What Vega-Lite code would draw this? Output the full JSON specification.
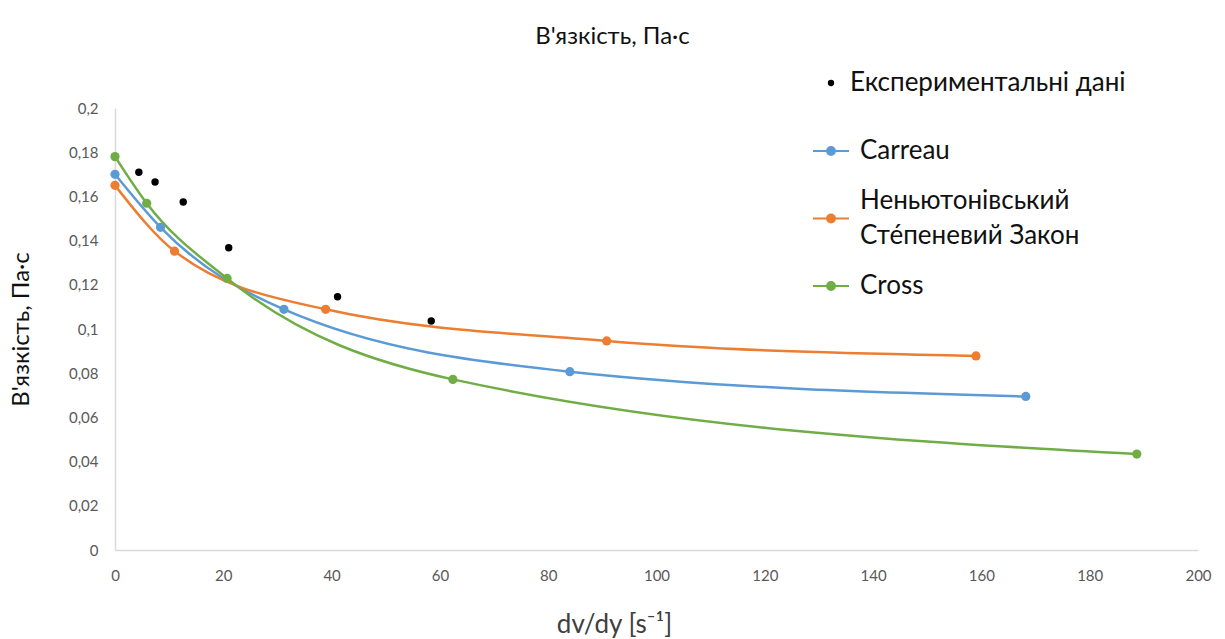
{
  "$schema": "https://vega.github.io/schema/vega-lite/v6.json",
  "width": 1083,
  "height": 442,
  "autosize": {"type": "none"},
  "padding": {"left": 115, "top": 108, "right": 27, "bottom": 89},
  "background": "white",
  "config": {
    "font": "Lato",
    "view": {"stroke": null}
  },
  "title": {
    "text": "В'язкість, Па·с",
    "fontSize": 24,
    "fontWeight": "normal",
    "color": "#111111",
    "font": "Lato",
    "dx": -44,
    "offset": 21
  },
  "data": {
    "values": [
      {"series": "Експериментальні дані", "x": 4.4, "y": 0.1709},
      {"series": "Експериментальні дані", "x": 7.4, "y": 0.1665},
      {"series": "Експериментальні дані", "x": 12.6, "y": 0.1575},
      {"series": "Експериментальні дані", "x": 21.0, "y": 0.1368},
      {"series": "Експериментальні дані", "x": 41.1, "y": 0.1146},
      {"series": "Експериментальні дані", "x": 58.4, "y": 0.1036},
      {"series": "Carreau", "x": 0, "y": 0.170},
      {"series": "Carreau", "x": 8.4, "y": 0.146},
      {"series": "Carreau", "x": 31.2, "y": 0.1089},
      {"series": "Carreau", "x": 84.0, "y": 0.0807},
      {"series": "Carreau", "x": 168.2, "y": 0.0695},
      {"series": "Неньютонівський Сте́пеневий Закон", "x": 0, "y": 0.165},
      {"series": "Неньютонівський Сте́пеневий Закон", "x": 11.0, "y": 0.1352},
      {"series": "Неньютонівський Сте́пеневий Закон", "x": 38.9, "y": 0.1089},
      {"series": "Неньютонівський Сте́пеневий Закон", "x": 90.8, "y": 0.0946},
      {"series": "Неньютонівський Сте́пеневий Закон", "x": 159.0, "y": 0.0878},
      {"series": "Cross", "x": 0, "y": 0.178},
      {"series": "Cross", "x": 5.85, "y": 0.1569},
      {"series": "Cross", "x": 20.7, "y": 0.1229},
      {"series": "Cross", "x": 62.4, "y": 0.0772},
      {"series": "Cross", "x": 188.7, "y": 0.0434}
    ]
  },
  "encoding": {
    "x": {
      "field": "x",
      "type": "quantitative",
      "scale": {"domain": [0, 200], "nice": false, "zero": false},
      "axis": {
        "title": "dv/dy [s⁻¹]",
        "values": [0, 20, 40, 60, 80, 100, 120, 140, 160, 180, 200],
        "grid": false,
        "ticks": false,
        "labelFlush": false,
        "domainColor": "#d9d9d9",
        "domainWidth": 1.5,
        "labelColor": "#595959",
        "labelFontSize": 15,
        "labelPadding": 18,
        "labelFont": "Lato",
        "titleFont": "Lato",
        "titleFontSize": 26,
        "titleFontWeight": "normal",
        "titleColor": "#404040",
        "titlePadding": 28,
        "titleX": 499
      }
    },
    "y": {
      "field": "y",
      "type": "quantitative",
      "scale": {"domain": [0, 0.2], "nice": false},
      "axis": {
        "title": "В'язкість, Па·с",
        "values": [0, 0.02, 0.04, 0.06, 0.08, 0.1, 0.12, 0.14, 0.16, 0.18, 0.2],
        "labelExpr": "replace(format(datum.value, '~g'), '.', ',')",
        "grid": false,
        "ticks": false,
        "domainColor": "#d9d9d9",
        "domainWidth": 1.5,
        "labelColor": "#595959",
        "labelFontSize": 15,
        "labelPadding": 17,
        "labelFont": "Lato",
        "titleFont": "Lato",
        "titleFontSize": 24,
        "titleFontWeight": "normal",
        "titleColor": "#111111",
        "titlePadding": 35
      }
    }
  },
  "layer": [
    {
      "transform": [{"filter": "datum.series !== 'Експериментальні дані'"}],
      "mark": {"type": "line", "interpolate": "monotone", "strokeWidth": 2.5},
      "encoding": {
        "color": {
          "field": "series",
          "type": "nominal",
          "scale": {
            "domain": ["Carreau", "Неньютонівський Сте́пеневий Закон", "Cross"],
            "range": ["#5b9bd5", "#ed7d31", "#70ad47"]
          },
          "legend": {
            "title": null,
            "orient": "none",
            "legendX": 697,
            "legendY": 24,
            "symbolType": "M-1,0L1,0M-0.22,0A0.22,0.22,0,1,0,0.22,0A0.22,0.22,0,1,0,-0.22,0Z",
            "symbolSize": 1296,
            "symbolStrokeWidth": 2,
            "labelFontSize": 26,
            "labelFont": "Lato",
            "labelColor": "#111111",
            "labelLimit": 400,
            "labelOffset": 10,
            "rowPadding": 18,
            "labelExpr": "datum.label == 'Неньютонівський Сте́пеневий Закон' ? ['Неньютонівський', 'Сте́пеневий Закон'] : datum.label",
            "encode": {
              "symbols": {
                "update": {
                  "fill": {"scale": "color", "field": "value"},
                  "stroke": {"scale": "color", "field": "value"},
                  "strokeWidth": {"value": 2},
                  "opacity": {"value": 1},
                  "shape": {"signal": "datum.value == 'Неньютонівський Сте́пеневий Закон' ? 'M-1,0.97L1,0.97M-0.22,0.97A0.22,0.22,0,1,0,0.22,0.97A0.22,0.22,0,1,0,-0.22,0.97Z' : 'M-1,0L1,0M-0.22,0A0.22,0.22,0,1,0,0.22,0A0.22,0.22,0,1,0,-0.22,0Z'"}
                }
              },
              "labels": {
                "update": {
                  "lineHeight": {"value": 35}
                }
              }
            }
          }
        }
      }
    },
    {
      "transform": [{"filter": "datum.series !== 'Експериментальні дані'"}],
      "mark": {"type": "point", "filled": true, "size": 85, "opacity": 1},
      "encoding": {
        "color": {"field": "series", "type": "nominal"}
      }
    },
    {
      "transform": [{"filter": "datum.series === 'Експериментальні дані'"}],
      "mark": {"type": "point", "filled": true, "size": 55, "opacity": 1, "color": "#000000"},
      "encoding": {
        "shape": {
          "field": "series",
          "type": "nominal",
          "scale": {"domain": ["Експериментальні дані"], "range": ["circle"]},
          "legend": {
            "title": null,
            "orient": "none",
            "legendX": 703,
            "legendY": -38,
            "symbolSize": 40,
            "labelFontSize": 26,
            "labelFont": "Lato",
            "labelColor": "#111111",
            "labelLimit": 400,
            "labelOffset": 6,
            "encode": {
              "symbols": {
                "update": {
                  "fill": {"value": "#000000"},
                  "stroke": {"value": "transparent"},
                  "opacity": {"value": 1}
                }
              }
            }
          }
        }
      }
    }
  ]
}
